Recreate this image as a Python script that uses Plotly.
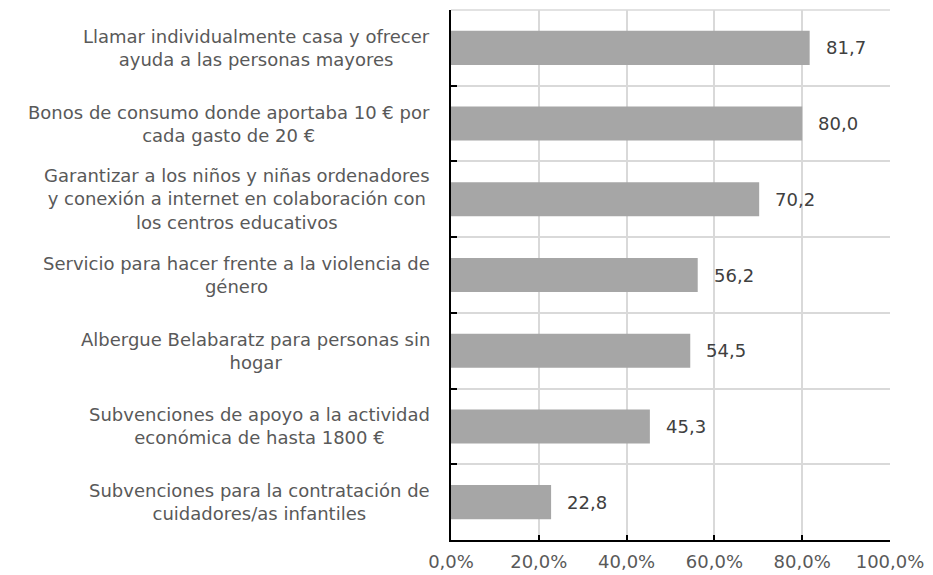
import plotly.graph_objects as go

categories = [
    "Llamar individualmente casa y ofrecer<br>ayuda a las personas mayores",
    "Bonos de consumo donde aportaba 10 € por<br>cada gasto de 20 €",
    "Garantizar a los niños y niñas ordenadores<br>y conexión a internet en colaboración con<br>los centros educativos",
    "Servicio para hacer frente a la violencia de<br>género",
    "Albergue Belabaratz para personas sin<br>hogar",
    "Subvenciones de apoyo a la actividad<br>económica de hasta 1800 €",
    "Subvenciones para la contratación de<br>cuidadores/as infantiles",
]
values = [81.7, 80.0, 70.2, 56.2, 54.5, 45.3, 22.8]
value_labels = ["81,7", "80,0", "70,2", "56,2", "54,5", "45,3", "22,8"]
x_ticks = [0, 20, 40, 60, 80, 100]
x_tick_labels = ["0,0%", "20,0%", "40,0%", "60,0%", "80,0%", "100,0%"]

FONT = "Verdana, DejaVu Sans, sans-serif"
n = len(categories)
positions = list(range(n))

fig = go.Figure()
fig.add_trace(go.Bar(
    x=values, y=positions, orientation="h",
    marker=dict(color="#A6A6A6", line=dict(width=0)),
    width=0.45, hoverinfo="skip",
))

annotations = []
for i, (cat, v, lab) in enumerate(zip(categories, values, value_labels)):
    annotations.append(dict(
        x=0, xref="paper", y=i, yref="y", text=cat, showarrow=False,
        xanchor="right", yanchor="middle", align="center", xshift=-19,
        font=dict(family=FONT, size=18, color="#595959"),
    ))
    annotations.append(dict(
        x=v, xref="x", y=i, yref="y", text=lab, showarrow=False,
        xanchor="left", yanchor="middle", xshift=14,
        font=dict(family=FONT, size=18, color="#404040"),
    ))

fig.update_layout(
    template="none",
    width=925, height=567,
    margin=dict(l=443, r=43, t=2, b=35, autoexpand=False),
    plot_bgcolor="white", paper_bgcolor="white",
    showlegend=False,
    annotations=annotations,
    shapes=[dict(type="line", xref="paper", yref="paper", x0=0, x1=1, y0=1, y1=1,
                 line=dict(color="#D9D9D9", width=1.5), layer="below")],
    xaxis=dict(
        range=[0, 100], tickvals=x_ticks, ticktext=x_tick_labels,
        showgrid=True, gridcolor="#D9D9D9", gridwidth=1.5,
        showline=True, linecolor="black", linewidth=2,
        ticks="inside", ticklen=5, tickcolor="black", tickwidth=2,
        ticklabelstandoff=4,
        tickfont=dict(family=FONT, size=18, color="#595959"),
        zeroline=False, fixedrange=True, automargin=False,
    ),
    yaxis=dict(
        range=[n - 0.5, -0.5],
        tickvals=[p - 0.5 for p in range(n + 1)],
        ticktext=[""] * (n + 1),
        showgrid=True, gridcolor="#D9D9D9", gridwidth=1.5,
        showline=True, linecolor="black", linewidth=2,
        ticks="inside", ticklen=6, tickcolor="black", tickwidth=2,
        zeroline=False, fixedrange=True, automargin=False,
    ),
)

fig.write_html("out.html")
